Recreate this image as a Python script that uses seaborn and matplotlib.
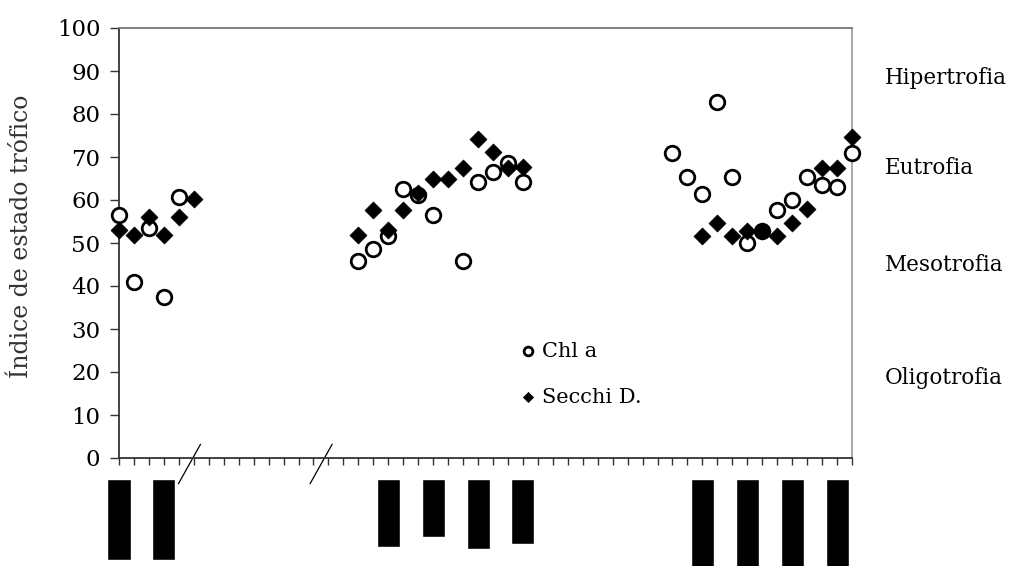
import numpy as np
import matplotlib
matplotlib.use("Agg")
import matplotlib.pyplot as plt
import seaborn as sns

# sampling dates as category index (50 slots on the axis)
n_slots = 50

chl_x = [0, 1, 2, 3, 4, 16, 17, 18, 19, 20, 21, 23, 24, 25, 26, 27,
         37, 38, 39, 40, 41, 42, 43, 44, 45, 46, 47, 48, 49]
chl_y = [56.5, 41.0, 53.4, 37.5, 60.8, 45.8, 48.7, 51.6, 62.6, 61.2, 56.4, 45.8, 64.3, 66.6, 68.7, 64.3,
         71.0, 65.4, 61.3, 82.8, 65.4, 49.9, 52.9, 57.7, 60.0, 65.4, 63.5, 63.1, 70.9]

secchi_x = [0, 1, 2, 3, 4, 5, 16, 17, 18, 19, 20, 21, 22, 23, 24, 25, 26, 27,
            39, 40, 41, 42, 43, 44, 45, 46, 47, 48, 49]
secchi_y = [53.0, 51.8, 56.0, 51.8, 56.0, 60.2, 51.8, 57.7, 53.0, 57.7, 61.7, 64.9, 64.9, 67.4, 74.3, 71.1, 67.4, 67.6,
            51.6, 54.6, 51.6, 52.9, 52.9, 51.6, 54.7, 57.8, 67.4, 67.4, 74.7]

# trophic state names and the index value where each is written
states = ["Hipertrofia", "Eutrofia", "Mesotrofia", "Oligotrofia"]
state_y = [88.4, 67.4, 44.9, 18.6]

# rotated date labels came out as solid blocks; slots and block lengths (px)
label_slots = [0, 3, 18, 21, 24, 27, 39, 42, 45, 48]
label_len = [81, 81, 68, 58, 70, 65, 90, 90, 90, 90]

# axis breaks between sampling periods
breaks = [4.95, 13.75]

sns.set_style("white")
plt.rcParams["font.family"] = ["DejaVu Serif"]
plt.rcParams["text.color"] = "black"
plt.rcParams["ytick.color"] = "black"
plt.rcParams["xtick.color"] = "black"

fig = plt.figure(figsize=(10.12, 5.66), dpi=100)
ax = fig.add_axes([119 / 1012, 1 - 458 / 566, 733 / 1012, 430 / 566])

sns.scatterplot(x=chl_x, y=chl_y, ax=ax, marker="o", s=110, facecolor="white",
                edgecolor="black", linewidth=2.0, label="Chl a", zorder=3, clip_on=False)
sns.scatterplot(x=secchi_x, y=secchi_y, ax=ax, marker="D", s=75, color="black",
                edgecolor="black", linewidth=0.5, label="Secchi D.", zorder=4, clip_on=False)

ax.set_xlim(0, n_slots - 1)
ax.set_ylim(0, 100)
ax.set_yticks(np.arange(0, 101, 10))
ax.set_xticks(np.arange(n_slots))
ax.set_xticklabels([])
ax.tick_params(axis="y", direction="out", length=6.5, width=1, pad=7, labelsize=16.5, left=True, color="#333333")
ax.tick_params(axis="x", direction="out", length=5, width=1, bottom=True, color="#333333")
ax.set_ylabel("Índice de estado trófico", fontsize=17, color="#333333")
ax.yaxis.set_label_coords(-0.117, 0.516)

for side in ["left", "bottom"]:
    ax.spines[side].set_color("#333333")
    ax.spines[side].set_linewidth(1.3)
ax.spines["top"].set_color("#777777")
ax.spines["top"].set_linewidth(1.3)
ax.spines["right"].set_color("#a0a0a0")
ax.spines["right"].set_linewidth(1.3)

leg = ax.legend(loc="center left", bbox_to_anchor=(0.549, 0.195), frameon=False,
                fontsize=15, markerscale=0.6, handlelength=0.6, handletextpad=0.4,
                labelspacing=1.3, borderpad=0, borderaxespad=0)

for b in breaks:
    ax.plot([b - 0.98, b + 0.5], [-6.0, 3.2], color="black", linewidth=0.9, clip_on=False)

for name, yv in zip(states, state_y):
    ax.text(1.045, yv, name, transform=ax.get_yaxis_transform(), fontsize=15.5,
            ha="left", va="center")

lab_ax = fig.add_axes([119 / 1012, 0, 733 / 1012, 87 / 566])
lab_ax.bar(label_slots, label_len, width=1.54, color="black", align="center", clip_on=False)
lab_ax.set_xlim(0, n_slots - 1)
lab_ax.set_ylim(87, 0)
lab_ax.axis("off")

fig.savefig("out.png", dpi=100)
